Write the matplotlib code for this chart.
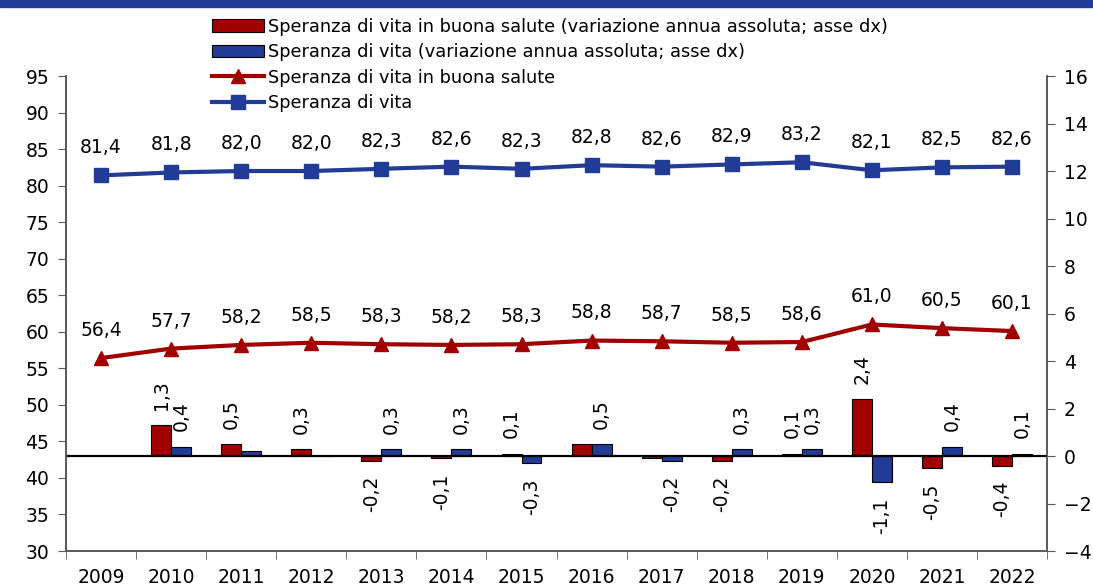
import numpy as np
import matplotlib.pyplot as plt
from matplotlib.patches import Rectangle

plt.rcParams["font.family"] = ["DejaVu Sans"]

years = [2009, 2010, 2011, 2012, 2013, 2014, 2015, 2016, 2017, 2018, 2019, 2020, 2021, 2022]
vita = [81.4, 81.8, 82.0, 82.0, 82.3, 82.6, 82.3, 82.8, 82.6, 82.9, 83.2, 82.1, 82.5, 82.6]
buona = [56.4, 57.7, 58.2, 58.5, 58.3, 58.2, 58.3, 58.8, 58.7, 58.5, 58.6, 61.0, 60.5, 60.1]
var_buona = [np.nan, 1.3, 0.5, 0.3, -0.2, -0.1, 0.1, 0.5, -0.1, -0.2, 0.1, 2.4, -0.5, -0.4]
var_vita = [np.nan, 0.4, 0.2, 0.0, 0.3, 0.3, -0.3, 0.5, -0.2, 0.3, 0.3, -1.1, 0.4, 0.1]
# labels not shown in the original (overlapping)
hide_buona = [2016, 2017]
hide_vita = [2011, 2012]

RED = "#A00000"
BLUE = "#203C96"
FS = 13.5

fig = plt.figure(figsize=(10.93, 5.87), dpi=100)
ax = fig.add_axes([0.0604, 0.0613, 0.8976, 0.8092])
ax2 = ax.twinx()

x = np.arange(len(years))
w = 0.285

def fmt(v):
    return ("%.1f" % v).replace(".", ",")

b1 = ax2.bar(x - w / 2, var_buona, w, color=RED, edgecolor="black", linewidth=0.8,
             label="Speranza di vita in buona salute (variazione annua assoluta; asse dx)")
b2 = ax2.bar(x + w / 2, var_vita, w, color=BLUE, edgecolor="black", linewidth=0.8,
             label="Speranza di vita (variazione annua assoluta; asse dx)")
ax2.axhline(0, color="black", lw=1.6, zorder=1)

for vals, hide, off in ((var_buona, hide_buona, -w / 2), (var_vita, hide_vita, w / 2)):
    for i, v in enumerate(vals):
        if np.isnan(v) or years[i] in hide:
            continue
        if v >= 0:
            ax2.annotate(fmt(v), (i + off, v), xytext=(0, 11), textcoords="offset points",
                         rotation=90, ha="center", va="bottom", fontsize=FS)
        else:
            ax2.annotate(fmt(v), (i + off, v), xytext=(0, -11), textcoords="offset points",
                         rotation=90, ha="center", va="top", fontsize=FS)

l1, = ax.plot(x, buona, color=RED, lw=3, marker="^", markersize=10,
              label="Speranza di vita in buona salute")
l2, = ax.plot(x, vita, color=BLUE, lw=3, marker="s", markersize=9.5,
              label="Speranza di vita")
for i in x:
    ax.annotate(fmt(buona[i]), (i, buona[i]), xytext=(0, 13), textcoords="offset points",
                ha="center", va="bottom", fontsize=FS)
    ax.annotate(fmt(vita[i]), (i, vita[i]), xytext=(0, 13), textcoords="offset points",
                ha="center", va="bottom", fontsize=FS)

ax.set_zorder(ax2.get_zorder() + 1)
ax.patch.set_visible(False)

ax.set_xlim(-0.5, len(years) - 0.5)
ax.set_ylim(30, 95)
ax.set_yticks(np.arange(30, 96, 5))
ax2.set_ylim(-4, 16)
ax2.set_yticks(np.arange(-4, 17, 2))

ax.set_xticks(x)
ax.set_xticklabels([str(y) for y in years])
ax.set_xticks(np.arange(-0.5, len(years), 1), minor=True)
ax.tick_params(axis="x", which="major", length=0, labelsize=FS, pad=12)
ax.tick_params(axis="x", which="minor", length=6, color="#595959")
ax.tick_params(axis="y", length=6, color="#595959", labelsize=FS, pad=6)
ax2.tick_params(axis="y", length=6, color="#595959", labelsize=FS, pad=6)

for a in (ax, ax2):
    a.spines["top"].set_visible(False)
    for s in ("left", "right", "bottom"):
        a.spines[s].set_color("#595959")
        a.spines[s].set_linewidth(1.2)

fig.patches.append(Rectangle((0, 0.988), 1, 0.012, transform=fig.transFigure,
                             color=BLUE, zorder=0))

fig.legend([b1, b2, l1, l2], [h.get_label() for h in (b1, b2, l1, l2)],
           loc="upper left", bbox_to_anchor=(0.194, 0.97), frameon=False,
           fontsize=12.8, handlelength=2.9, handletextpad=0.25, labelspacing=0.42,
           borderaxespad=0, borderpad=0)

fig.savefig("out.png", dpi=100)
